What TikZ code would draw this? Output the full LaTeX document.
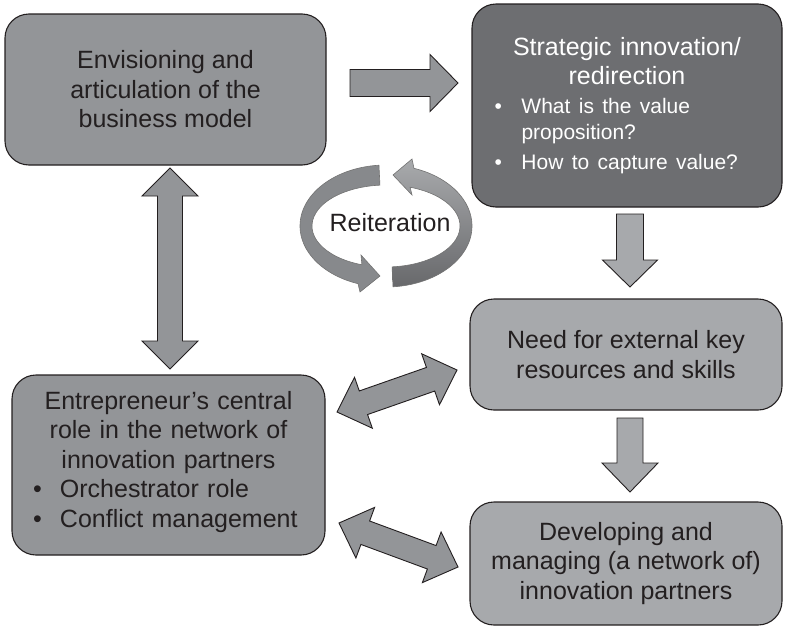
\documentclass[tikz,border=0pt]{standalone}
\usepackage{fontspec}
\setmainfont{Liberation Sans}
\usetikzlibrary{calc}
\definecolor{midgrey}{HTML}{939598}
\definecolor{lightgrey}{HTML}{A7A9AC}
\definecolor{darkgrey}{HTML}{6D6E71}
\definecolor{inkgrey}{HTML}{231F20}
\def\fatarrow[#1](#2)(#3)(#4:#5:#6){\coordinate (hb) at ($(#3)!#6!(#2)$);
	\draw[#1] ($(#2)!#4!90:(#3)$) -- ($(hb)!#4!90:(#3)$) -- ($(hb)!#5!90:(#3)$) -- (#3) -- ($(hb)!#5!-90:(#3)$) -- ($(hb)!#4!-90:(#3)$) -- ($(#2)!#4!-90:(#3)$) -- cycle;}
\def\twinarrow[#1](#2)(#3)(#4:#5:#6){\coordinate (ha) at ($(#2)!#6!(#3)$); \coordinate (hb) at ($(#3)!#6!(#2)$);
	\draw[#1] (#2) -- ($(ha)!#5!90:(#3)$) -- ($(ha)!#4!90:(#3)$) -- ($(hb)!#4!90:(#3)$) -- ($(hb)!#5!90:(#3)$) -- (#3) -- ($(hb)!#5!-90:(#3)$) -- ($(hb)!#4!-90:(#3)$) -- ($(ha)!#4!-90:(#3)$) -- ($(ha)!#5!-90:(#3)$) -- cycle;}
\def\bullitem{\makebox[27pt][l]{\textbullet}}

\begin{document}
\begin{tikzpicture}[x=1pt, y=-1pt,
	panel/.style={draw=inkgrey, line width=1.1pt, rounded corners=24pt, inner sep=0pt, text=inkgrey, font=\fontsize{25}{29.5}\selectfont},
	blockarrow/.style={draw=inkgrey, line width=0.9pt, fill=midgrey, line join=miter},
	ringarrow/.style={draw=black!55, line width=0.6pt}]
			%%%%% START %%%%%
			
			\useasboundingbox (0,0) rectangle (785,627);
			
			\node[panel, fill=midgrey, minimum width=321pt, minimum height=151pt, align=center] (vision) at (165.5,89.5) {Envisioning and\\articulation of the\\business model};
			
			\node[panel, fill=darkgrey, text=white, minimum width=310pt, minimum height=203pt, text width=265pt] (strat) at (627,105.5) {\centering Strategic innovation/\\redirection\par
				\vspace{3pt}\raggedright\fontsize{21}{26}\selectfont
				\bullitem What is the value\\\hspace*{27pt}proposition?\par
				\vspace{4pt}\bullitem How to capture value?\par};
			
			\node[panel, fill=lightgrey, minimum width=312pt, minimum height=111pt, align=center] (needs) at (626,354.5) {Need for external key\\resources and skills};
			
			\node[panel, fill=midgrey, minimum width=313pt, minimum height=180pt, text width=271pt] (entre) at (168.5,465) {\centering Entrepreneur’s central\\role in the network of\\innovation partners\par
				\raggedright\bullitem Orchestrator role\\
				\bullitem Conflict management\par\vspace{6pt}};
			
			\node[panel, fill=lightgrey, minimum width=312pt, minimum height=123pt, align=center] (partners) at (626,563.5) {Developing and\\managing (a network of)\\innovation partners};
			
			% block arrows
			\coordinate (h1) at (350,83);
			\coordinate (h2) at (458,83);
			\fatarrow[blockarrow](h1)(h2)(13.5pt:28.5pt:28pt)
			
			\coordinate (d1) at (630,214);
			\coordinate (d2) at (630,287);
			\fatarrow[blockarrow, fill=lightgrey](d1)(d2)(13.5pt:27.5pt:27pt)
			
			\coordinate (d3) at (630,418);
			\coordinate (d4) at (630,492);
			\fatarrow[blockarrow, fill=lightgrey](d3)(d4)(13pt:28pt:29pt)
			
			\coordinate (v1) at (170,168);
			\coordinate (v2) at (170,369);
			\twinarrow[blockarrow](v1)(v2)(12.5pt:28pt:28pt)
			
			\coordinate (s1) at (337,412);
			\coordinate (s2) at (457,370);
			\twinarrow[blockarrow](s1)(s2)(12.5pt:27pt:28pt)
			
			\coordinate (s3) at (339,523);
			\coordinate (s4) at (458,567);
			\twinarrow[blockarrow](s3)(s4)(12.5pt:27pt:28pt)
			
			% reiteration loop
			\coordinate (ctr) at (386,226);
			\draw[ringarrow, fill=midgrey!92!black] ($(ctr)+(265.3:86 and 61)$) arc[start angle=265.3, end angle=109, x radius=86, y radius=61] -- (360,292) -- (380,276) -- (361,255) -- ($(ctr)+(109:74 and 41)$) arc[start angle=109, end angle=265.3, x radius=74, y radius=41] -- cycle;
			\draw[ringarrow, top color=midgrey!80!white, bottom color=darkgrey!95!black] ($(ctr)+(85.3:86 and 61)$) arc[start angle=85.3, end angle=-71, x radius=86, y radius=61] -- (412,159) -- (393,175) -- (412,195) -- ($(ctr)+(-71:74 and 41)$) arc[start angle=-71, end angle=85.3, x radius=74, y radius=41] -- cycle;
			\node[font=\fontsize{25}{30}\selectfont, text=inkgrey] (reit) at (390,223) {Reiteration};
			
			%%%%% END %%%%%
\end{tikzpicture}
\end{document}
